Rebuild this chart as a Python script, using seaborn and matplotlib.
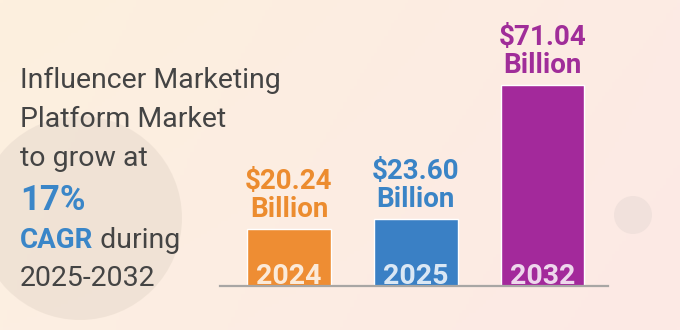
import numpy as np
import pandas as pd
import matplotlib
matplotlib.use("Agg")
import matplotlib.pyplot as plt
from matplotlib.colors import to_rgb
from matplotlib.patches import Circle
import seaborn as sns

# Market size data
years = ["2024", "2025", "2032"]
market_size = [20.24, 23.60, 71.04]
bar_colors = ["#ee8d33", "#3a80c5", "#a3299b"]
label_colors = ["#ec8c2f", "#3a84c6", "#a02d99"]

headline = ["Influencer Marketing", "Platform Market", "to grow at"]
cagr_value = "17%"
cagr_word = "CAGR"
period_word = " during"
period = "2025-2032"

sns.set_theme(style="white")
plt.rcParams["font.family"] = ["Roboto", "DejaVu Sans"]

W, H = 680, 330
fig = plt.figure(figsize=(W / 100, H / 100), dpi=100)

# soft warm background gradient with decorative circles
bg = fig.add_axes([0, 0, 1, 1], zorder=0)
tl, tr = np.array(to_rgb("#fdf0de")), np.array(to_rgb("#fcebe4"))
bl, br = np.array(to_rgb("#fcefe2")), np.array(to_rgb("#fde9e5"))
u = np.linspace(0, 1, 200)[None, :, None]
v = np.linspace(0, 1, 100)[:, None, None]
grad = (1 - v) * ((1 - u) * tl + u * tr) + v * ((1 - u) * bl + u * br)
bg.imshow(grad, extent=[0, W, H, 0], aspect="auto")
bg.add_patch(Circle((80, 218), 102, color="#efe1d4", alpha=0.85, lw=0))
bg.add_patch(Circle((633, 215), 19, color="#f1e1dc", lw=0))
bg.set_xlim(0, W)
bg.set_ylim(H, 0)
bg.axis("off")

# bar chart
ax = fig.add_axes([220 / W, 44 / H, 388 / W, 266 / H], zorder=1)
df = pd.DataFrame({"year": years, "size": market_size})
sns.barplot(data=df, x="year", y="size", hue="year", palette=bar_colors,
            width=0.66, legend=False, ax=ax, saturation=1)
ax.set_xlim(-0.544, 2.517)
ax.set_ylim(0, 71.04 * 266 / 201)
ax.patch.set_alpha(0)
for s in ["top", "right", "left"]:
    ax.spines[s].set_visible(False)
ax.spines["bottom"].set_color("#a8a6a4")
ax.spines["bottom"].set_linewidth(1.6)
ax.set_xticks([])
ax.set_yticks([])
ax.set_xlabel("")
ax.set_ylabel("")

for i, (yr, val, col) in enumerate(zip(years, market_size, label_colors)):
    ax.annotate("Billion", (i, val), xytext=(0, 12 * 0.72), textcoords="offset points",
                ha="center", va="baseline", fontsize=20, fontweight="bold", color=col)
    ax.annotate(f"${val:.2f}", (i, val), xytext=(0, 40 * 0.72), textcoords="offset points",
                ha="center", va="baseline", fontsize=20, fontweight="bold", color=col)
    ax.annotate(yr, (i, 0), xytext=(0, 2 * 0.72), textcoords="offset points",
                ha="center", va="baseline", fontsize=20.5, fontweight="bold",
                color="white", alpha=0.82)

# headline text block
txt_color = "#444444"
blue = "#3a86c8"
fx = 20 / W
for line, yb in zip(headline, [88, 127, 166]):
    fig.text(fx, 1 - yb / H, line, fontsize=20.5, color=txt_color, va="baseline", ha="left")
fig.text(fx, 1 - 210 / H, cagr_value, fontsize=25, fontweight="bold", color=blue,
         va="baseline", ha="left")
t = fig.text(fx, 1 - 248 / H, cagr_word, fontsize=20, fontweight="bold", color=blue,
             va="baseline", ha="left")
fig.canvas.draw()
bb = t.get_window_extent()
fig.text(bb.x1 / W, 1 - 248 / H, period_word, fontsize=20.5, color=txt_color,
         va="baseline", ha="left")
fig.text(fx, 1 - 286 / H, period, fontsize=20.5, color=txt_color, va="baseline", ha="left")

fig.savefig("out.png", dpi=100)
